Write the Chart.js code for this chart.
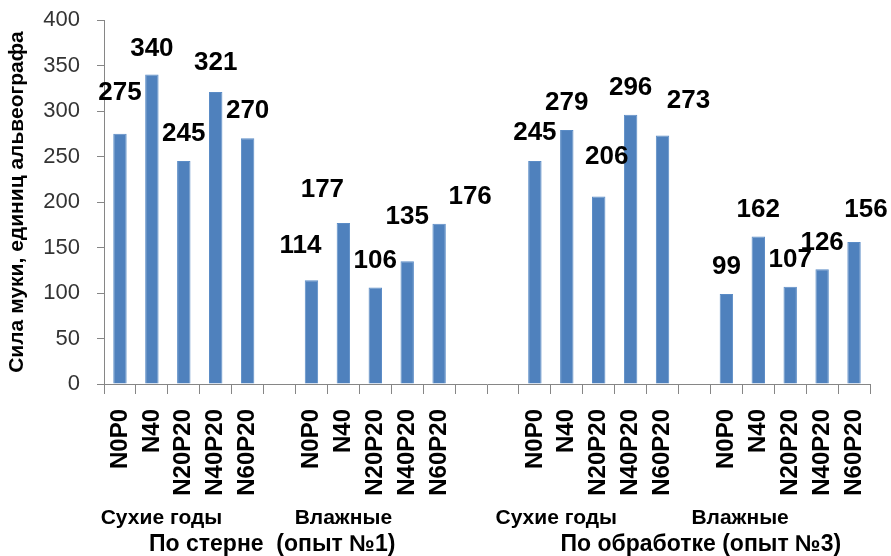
<!DOCTYPE html>
<html>
<head>
<meta charset="utf-8">
<script src="https://cdn.jsdelivr.net/npm/chart.js@4"></script>
<style>
  html, body { margin: 0; padding: 0; background: #fff; }
  #wrap { width: 891px; height: 556px; position: relative; }
</style>
</head>
<body>
<div id="wrap"><canvas id="forceChart"></canvas></div>
<script>
// Categories (empty strings are the gaps between groups)
const categories = [
    'N0P0', 'N40', 'N20P20', 'N40P20', 'N60P20', '',
    'N0P0', 'N40', 'N20P20', 'N40P20', 'N60P20', '', '',
    'N0P0', 'N40', 'N20P20', 'N40P20', 'N60P20', '',
    'N0P0', 'N40', 'N20P20', 'N40P20', 'N60P20'
];

// Flour strength, alveograph units
const values = [
    275, 340, 245, 321, 270, null,
    114, 177, 106, 135, 176, null, null,
    245, 279, 206, 296, 273, null,
    99, 162, 107, 126, 156
];

const yTicks = [0, 50, 100, 150, 200, 250, 300, 350, 400];

// Labels under the axis: text, category index of their centre, row
const groupLabels = [
    { text: 'Сухие годы', at: 1.3, row: 0 },
    { text: 'Влажные', at: 7.0, row: 0 },
    { text: 'Сухие годы', at: 13.67, row: 0 },
    { text: 'Влажные', at: 19.43, row: 0 },
    { text: 'По стерне  (опыт №1)', at: 4.77, row: 1 },
    { text: 'По обработке (опыт №3)', at: 18.2, row: 1 }
];

// Hand-placed value labels in the original: small shifts [dx, dy up]
const labelNudge = {
    0: [0, 14], 1: [0, -1], 3: [0, 2],
    6: [-11, 7], 7: [-21, 6], 9: [0, 17], 10: [31, 0],
    13: [0, 1], 15: [8, 13], 17: [26, 8],
    23: [12, 5]
};

// Draw the value labels and the group captions
const textPlugin = {
    id: 'textPlugin',
    afterDraw(chart) {
        const ctx = chart.ctx;
        const meta = chart.getDatasetMeta(0);
        ctx.save();
        ctx.fillStyle = '#000';
        ctx.textAlign = 'center';
        ctx.textBaseline = 'middle';
        ctx.font = 'bold 26px "Liberation Sans", Arial, sans-serif';
        meta.data.forEach((bar, i) => {
            if (values[i] === null) return;
            const n = labelNudge[i] || [0, 0];
            ctx.fillText(String(values[i]), bar.x + n[0], bar.y - 27 - n[1]);
        });

        const xScale = chart.scales.x;
        groupLabels.forEach(g => {
            ctx.font = g.row === 0
                ? 'bold 21px "Liberation Sans", Arial, sans-serif'
                : 'bold 23px "Liberation Sans", Arial, sans-serif';
            const y = g.row === 0 ? 518 : 545;
            ctx.fillText(g.text, xScale.getPixelForValue(g.at), y);
        });
        ctx.restore();
    }
};

const ctx = document.getElementById('forceChart').getContext('2d');
const forceChart = new Chart(ctx, {
    type: 'bar',
    data: {
        labels: categories,
        datasets: [{
            data: values,
            backgroundColor: '#4F81BD',
            borderColor: '#5B8CC6',
            borderWidth: 1,
            barPercentage: 0.7,
            categoryPercentage: 0.6
        }]
    },
    options: {
        responsive: true,
        maintainAspectRatio: false,
        animation: false,
        layout: {
            padding: { top: 20, right: 21, bottom: 0, left: 0 }
        },
        plugins: {
            legend: { display: false },
            tooltip: { enabled: false }
        },
        scales: {
            x: {
                grid: {
                    offset: true,
                    drawOnChartArea: false,
                    drawTicks: true,
                    tickLength: 10,
                    color: '#868686'
                },
                border: { color: '#868686', width: 1 },
                ticks: {
                    autoSkip: false,
                    minRotation: 90,
                    maxRotation: 90,
                    padding: 15,
                    color: '#000',
                    font: { family: '"Liberation Sans", Arial, sans-serif', size: 24, weight: 'bold' }
                },
                afterFit(scale) {
                    scale.height = 172;
                    scale.paddingLeft = 0;
                    scale.paddingRight = 0;
                }
            },
            y: {
                min: 0,
                max: 400,
                afterBuildTicks(scale) {
                    scale.ticks = yTicks.map(v => ({ value: v }));
                },
                grid: {
                    drawOnChartArea: false,
                    drawTicks: true,
                    tickLength: 7,
                    color: '#868686'
                },
                border: { color: '#868686', width: 1 },
                ticks: {
                    padding: 17,
                    color: '#333',
                    font: { family: '"Liberation Sans", Arial, sans-serif', size: 22 }
                },
                title: {
                    display: true,
                    text: 'Сила муки, единиц альвеографа',
                    color: '#000',
                    padding: { top: 5, bottom: 0 },
                    font: { family: '"Liberation Sans", Arial, sans-serif', size: 21, weight: 'bold' }
                },
                afterFit(scale) {
                    scale.width = 104;
                    scale.paddingTop = 0;
                    scale.paddingBottom = 0;
                }
            }
        }
    },
    plugins: [textPlugin]
});
</script>
</body>
</html>
